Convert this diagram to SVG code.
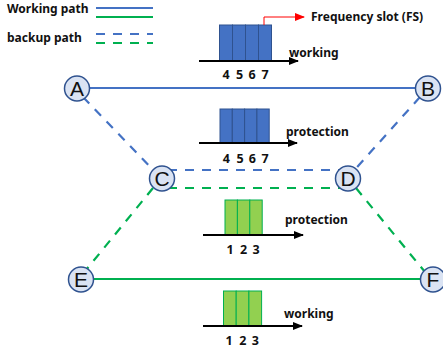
<svg xmlns="http://www.w3.org/2000/svg" width="443" height="352" viewBox="0 0 443 352">
<defs>
<style>
.lbl{font-family:"Noto Sans","Liberation Sans",sans-serif;font-weight:bold;font-size:12px;fill:#111}
.num{font-family:"Noto Sans","Liberation Sans",sans-serif;font-weight:bold;font-size:12.5px;fill:#111;text-anchor:middle}
.node circle{fill:#DAE3F3;stroke:#2F528F;stroke-width:1.5}
.node text{font-family:"Liberation Sans",Arial,sans-serif;font-size:21px;fill:#111;text-anchor:middle}
.blue{stroke:#4472C4;stroke-width:2.2;fill:none}
.green{stroke:#00B050;stroke-width:2.2;fill:none}
.dash{stroke-dasharray:9 8}
.bslot{fill:#4472C4;stroke:#2F528F;stroke-width:1}
.gslot{fill:#92D050;stroke:#00B050;stroke-width:1}
.axis{stroke:#000;stroke-width:2;fill:none}
</style>
<marker id="ah" markerWidth="10" markerHeight="8" refX="9" refY="4" orient="auto" markerUnits="userSpaceOnUse">
<path d="M0,0 L10,4 L0,8 Z" fill="#000"/>
</marker>
<marker id="rh" markerWidth="10" markerHeight="8" refX="9" refY="4" orient="auto" markerUnits="userSpaceOnUse">
<path d="M0,0 L10,4 L0,8 Z" fill="#FF0000"/>
</marker>
</defs>
<rect width="443" height="352" fill="#fff"/>

<g id="legend">
<text class="lbl" x="7" y="13">Working path</text>
<line class="blue" x1="96" y1="8" x2="153" y2="8"/>
<line class="green" x1="96" y1="17" x2="153" y2="17"/>
<text class="lbl" x="7" y="42">backup path</text>
<line class="blue dash" x1="96" y1="34" x2="153" y2="34"/>
<line class="green dash" x1="96" y1="43" x2="153" y2="43"/>
</g>

<g id="connectors">
<line class="blue" x1="77" y1="88" x2="428" y2="88"/>
<line class="blue dash" x1="83" y1="97" x2="158" y2="175"/>
<line class="blue dash" x1="420" y1="97" x2="350" y2="175"/>
<line class="blue dash" x1="168" y1="170" x2="340" y2="170"/>
<line class="green dash" x1="168" y1="188" x2="340" y2="188"/>
<line class="green dash" x1="153" y1="188" x2="86" y2="270"/>
<line class="green dash" x1="356" y1="188" x2="425" y2="272"/>
<line class="green" x1="81" y1="279" x2="433" y2="279"/>
</g>

<g id="node-A" class="node"><circle cx="77" cy="88.5" r="12.5"/><text x="77" y="96">A</text></g>
<g id="node-B" class="node"><circle cx="428" cy="88.5" r="12.5"/><text x="428" y="96">B</text></g>
<g id="node-C" class="node"><circle cx="162" cy="178.5" r="12.5"/><text x="162" y="186">C</text></g>
<g id="node-D" class="node"><circle cx="348" cy="178.5" r="12.5"/><text x="348" y="186">D</text></g>
<g id="node-E" class="node"><circle cx="81" cy="279.5" r="12.5"/><text x="81" y="287">E</text></g>
<g id="node-F" class="node"><circle cx="433" cy="279.5" r="12.5"/><text x="433" y="287">F</text></g>

<g id="fs-working-blue">
<rect class="bslot" x="219.5" y="25" width="13" height="36"/>
<rect class="bslot" x="232.5" y="25" width="13" height="36"/>
<rect class="bslot" x="245.5" y="25" width="13" height="36"/>
<rect class="bslot" x="258.5" y="25" width="13" height="36"/>
<line class="axis" x1="199" y1="61" x2="298" y2="61" marker-end="url(#ah)"/>
<text class="lbl" x="289" y="57">working</text>
<text class="num" y="79"><tspan x="226">4</tspan><tspan x="239.5">5</tspan><tspan x="252">6</tspan><tspan x="265">7</tspan></text>
<polyline points="264,25 264,17 304,17" fill="none" stroke="#FF0000" stroke-width="1" marker-end="url(#rh)"/>
<text class="lbl" x="311" y="21">Frequency slot (FS)</text>
</g>

<g id="fs-protection-blue">
<rect class="bslot" x="220" y="109" width="12.3" height="34"/>
<rect class="bslot" x="232.3" y="109" width="12.3" height="34"/>
<rect class="bslot" x="244.6" y="109" width="12.3" height="34"/>
<rect class="bslot" x="256.9" y="109" width="12.3" height="34"/>
<line class="axis" x1="199" y1="143" x2="297" y2="143" marker-end="url(#ah)"/>
<text class="lbl" x="286" y="136">protection</text>
<text class="num" y="163"><tspan x="226.3">4</tspan><tspan x="240">5</tspan><tspan x="252.3">6</tspan><tspan x="265">7</tspan></text>
</g>

<g id="fs-protection-green">
<rect class="gslot" x="225" y="200" width="12.4" height="35"/>
<rect class="gslot" x="237.4" y="200" width="12.4" height="35"/>
<rect class="gslot" x="249.8" y="200" width="12.4" height="35"/>
<line class="axis" x1="203" y1="235" x2="303" y2="235" marker-end="url(#ah)"/>
<text class="lbl" x="285" y="224">protection</text>
<text class="num" y="254"><tspan x="230">1</tspan><tspan x="243.5">2</tspan><tspan x="256">3</tspan></text>
</g>

<g id="fs-working-green">
<rect class="gslot" x="223.5" y="291" width="12.7" height="35"/>
<rect class="gslot" x="236.2" y="291" width="12.7" height="35"/>
<rect class="gslot" x="248.9" y="291" width="12.7" height="35"/>
<line class="axis" x1="203" y1="326" x2="302" y2="326" marker-end="url(#ah)"/>
<text class="lbl" x="284" y="318">working</text>
<text class="num" y="345"><tspan x="229">1</tspan><tspan x="242.8">2</tspan><tspan x="255.3">3</tspan></text>
</g>
</svg>
